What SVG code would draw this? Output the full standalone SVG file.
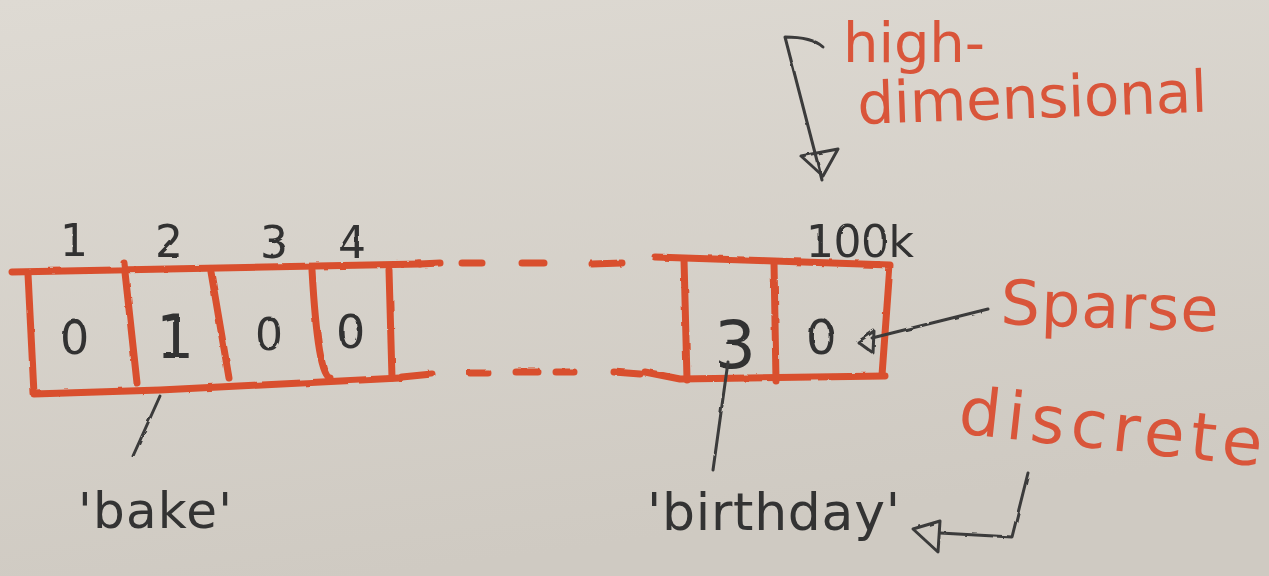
<svg xmlns="http://www.w3.org/2000/svg" width="1269" height="576" viewBox="0 0 1269 576">
  <defs>
    <linearGradient id="bg" x1="0" y1="0" x2="0.3" y2="1">
      <stop offset="0" stop-color="#dedad3"/>
      <stop offset="1" stop-color="#cfcac2"/>
    </linearGradient>
    <filter id="rough" x="-5%" y="-5%" width="110%" height="110%">
      <feTurbulence type="fractalNoise" baseFrequency="0.08" numOctaves="2" seed="3"/>
      <feDisplacementMap in="SourceGraphic" scale="2.5"/>
    </filter>
    <style>
      .red { fill: none; stroke: #d9502e; stroke-width: 7; stroke-linecap: round; stroke-linejoin: round; }
      .ink { fill: none; stroke: #3a3a3a; stroke-width: 3; stroke-linecap: round; stroke-linejoin: round; }
      .num { font-family: "DejaVu Sans", "Liberation Sans", sans-serif; fill: #333333; }
      .lbl { font-family: "DejaVu Sans", "Liberation Sans", sans-serif; fill: #d9553a; }
    </style>
  </defs>
  <rect width="1269" height="576" fill="url(#bg)"/>

  <g id="array-left" filter="url(#rough)">
    <path class="red" d="M12,272 L420,264"/>
    <path class="red" d="M28,274 L34,394 L160,390 L400,378"/>
    <path class="red" d="M124,263 L137,383"/>
    <path class="red" d="M211,272 L229,378"/>
    <path class="red" d="M312,270 Q318,376 330,378"/>
    <path class="red" d="M389,270 L392,378"/>
    <text class="num" x="60" y="354" font-size="46">0</text>
    <text class="num" x="156" y="358" font-size="60">1</text>
    <text class="num" x="255" y="350" font-size="44">0</text>
    <text class="num" x="336" y="348" font-size="46">0</text>
    <text class="num" x="60" y="256" font-size="44">1</text>
    <text class="num" x="155" y="257" font-size="44">2</text>
    <text class="num" x="260" y="258" font-size="44">3</text>
    <text class="num" x="338" y="258" font-size="44">4</text>
  </g>

  <g id="dashes" filter="url(#rough)">
    <path class="red" d="M420,264 L440,263 M462,263 L482,263 M522,263 L544,263 M592,264 L622,263"/>
    <path class="red" d="M402,377 L432,374 M470,373 L488,373 M516,372 L538,372 M556,372 L574,372 M614,372 L640,374"/>
  </g>

  <g id="array-right" filter="url(#rough)">
    <path class="red" d="M655,257 L890,265 L882,375"/>
    <path class="red" d="M645,372 L680,379 L885,376"/>
    <path class="red" d="M684,259 L687,380"/>
    <path class="red" d="M774,262 L776,381"/>
    <text class="num" x="714" y="368" font-size="66">3</text>
    <text class="num" x="806" y="354" font-size="48">0</text>
    <text class="num" x="806" y="257" font-size="44" textLength="108">100k</text>
  </g>

  <g id="label-bake">
    <text class="num" x="78" y="528" font-size="50" textLength="154">'bake'</text>
  </g>
  <g id="label-birthday">
    <text class="num" x="647" y="530" font-size="52" textLength="253">'birthday'</text>
  </g>
  <g id="label-sparse">
    <text class="lbl" x="1000" y="324" font-size="62" textLength="218" transform="rotate(2 1000 324)">Sparse</text>
  </g>
  <g id="label-high-dimensional">
    <text class="lbl" x="843" y="62" font-size="56" textLength="142">high-</text>
    <text class="lbl" x="858" y="124" font-size="58" textLength="350" transform="rotate(-2 858 124)">dimensional</text>
  </g>
  <g id="label-discrete">
    <text class="lbl" x="957" y="433" font-size="66" textLength="305" transform="rotate(6.3 957 433)">discrete</text>
  </g>

  <g id="connectors" filter="url(#rough)">
    <path class="ink" d="M160,396 L133,456"/>
    <path class="ink" d="M728,362 L713,470"/>
    <path class="ink" d="M988,309 L872,338"/>
    <path class="ink" d="M858,342 L874,331 L873,353 Z"/>
    <path class="ink" d="M823,47 Q812,37 785,37 L822,180"/>
    <path class="ink" d="M801,156 L838,149 L823,176 Z"/>
    <path class="ink" d="M1028,473 L1012,537 L940,533"/>
    <path class="ink" d="M913,529 L940,521 L938,552 Z"/>
  </g>
</svg>
